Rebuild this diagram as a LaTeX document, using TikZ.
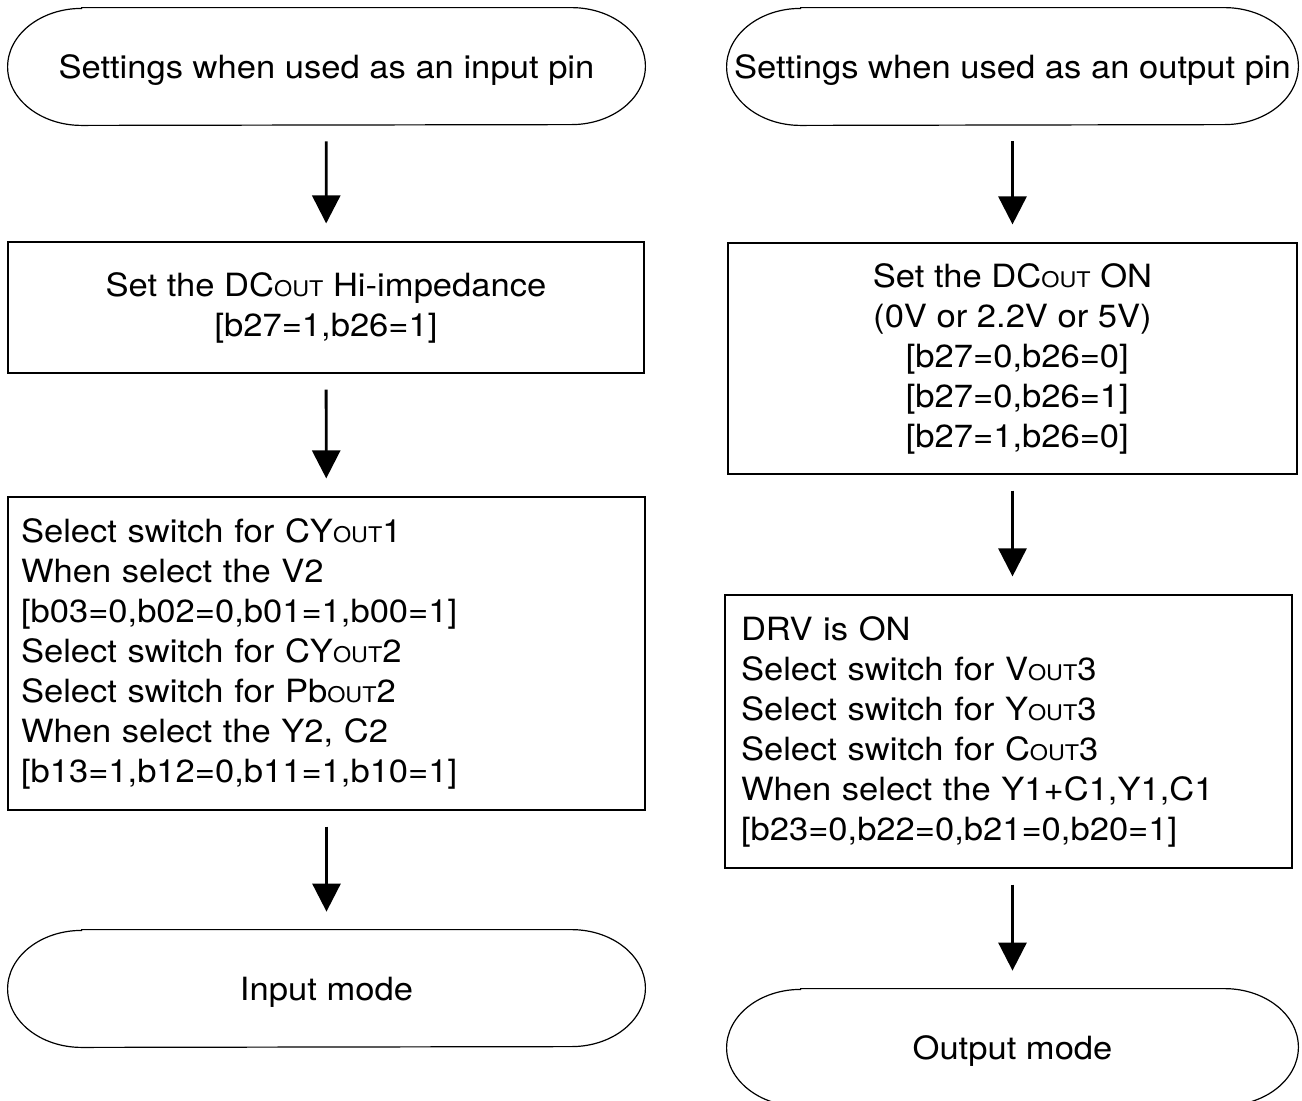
\documentclass[tikz,border=0pt]{standalone}
\usepackage{fontspec}
\setmainfont{TeX Gyre Heros}[FakeStretch=1.08]
\usepackage{tikz}
\usetikzlibrary{arrows.meta, positioning}

\newcommand{\lowcap}[1]{{\fontsize{10.8pt}{10.8pt}\selectfont #1}}
% outline of a terminal node with elliptical ends
\newcommand{\termline}[1]{%
  \draw[line width=0.6pt] ([xshift=37pt]#1.north west) -- ([xshift=-37pt]#1.north east)
    arc[start angle=90, end angle=-90, x radius=37pt, y radius=29.25pt]
    -- ([xshift=37pt]#1.south west)
    arc[start angle=270, end angle=90, x radius=37pt, y radius=29.25pt] -- cycle;}

\begin{document}
\begin{tikzpicture}[
    x=0.5pt, y=-0.5pt,
    >={Triangle[width=14pt, length=14pt]},
    font=\fontsize{16pt}{20pt}\selectfont,
    term/.style={rectangle, minimum height=58.5pt, inner xsep=0pt, text depth=0pt, align=center},
    box/.style={draw, line width=0.6pt, rectangle, inner sep=0pt, align=center},
    leftbox/.style={draw, line width=0.6pt, rectangle, align=left},
    arr/.style={->, line width=1.4pt, shorten <=8pt, shorten >=9pt},
]
\useasboundingbox (0,0) rectangle (1302,1100);

% === LEFT: input pin ===
\node[term, minimum width=318.5pt] (inStart) at (326.5,66.5) {Settings when used as an input pin};
\node[box, minimum width=318pt, minimum height=65.5pt] (inHiZ) at (326,307.5) {Set the DC\lowcap{OUT} Hi-impedance\\{}[b27=1,b26=1]};
\node[leftbox, minimum width=318.5pt, minimum height=156.5pt, text width=305.5pt, inner xsep=6.5pt] (inSwitch) at (326.5,653.5)
    {\rule{0pt}{9pt}Select switch for CY\lowcap{OUT}1\\
     When select the V2\\{}
     [b03=0,b02=0,b01=1,b00=1]\\
     Select switch for CY\lowcap{OUT}2\\
     Select switch for Pb\lowcap{OUT}2\\
     When select the Y2, C2\\{}
     [b13=1,b12=0,b11=1,b10=1]};
\node[term, minimum width=318.5pt] (inMode) at (326.5,988.5) {Input mode};
\termline{inStart}
\termline{inMode}

\draw[arr] (inStart) -- (inHiZ);
\draw[arr] (inHiZ) -- (inSwitch);
\draw[arr] (inSwitch) -- (inMode);

% === RIGHT: output pin ===
\node[term, minimum width=285.5pt] (outStart) at (1012.5,66.5) {Settings when used as an output pin};
\node[box, minimum width=284.5pt, minimum height=115.5pt] (outOn) at (1012.5,358.5)
    {Set the DC\lowcap{OUT} ON\\
     (0V or 2.2V or 5V)\\{}
     [b27=0,b26=0]\\{}
     [b27=0,b26=1]\\{}
     [b27=1,b26=0]};
\node[leftbox, minimum width=283.5pt, minimum height=136.5pt, text width=267.5pt, inner xsep=8pt] (outDrv) at (1008.5,731.5)
    {DRV is ON\\
     Select switch for V\lowcap{OUT}3\\
     Select switch for Y\lowcap{OUT}3\\
     Select switch for C\lowcap{OUT}3\\
     When select the Y1+C1,Y1,C1\\{}
     [b23=0,b22=0,b21=0,b20=1]};
\node[term, minimum width=285.5pt] (outMode) at (1012.5,1047.5) {Output mode};
\termline{outStart}
\termline{outMode}

\draw[arr] (outStart) -- (outOn);
\draw[arr] (outOn.south) -- (outOn.south |- outDrv.north);
\draw[arr] (outMode.north |- outDrv.south) -- (outMode.north);

\end{tikzpicture}
\end{document}
